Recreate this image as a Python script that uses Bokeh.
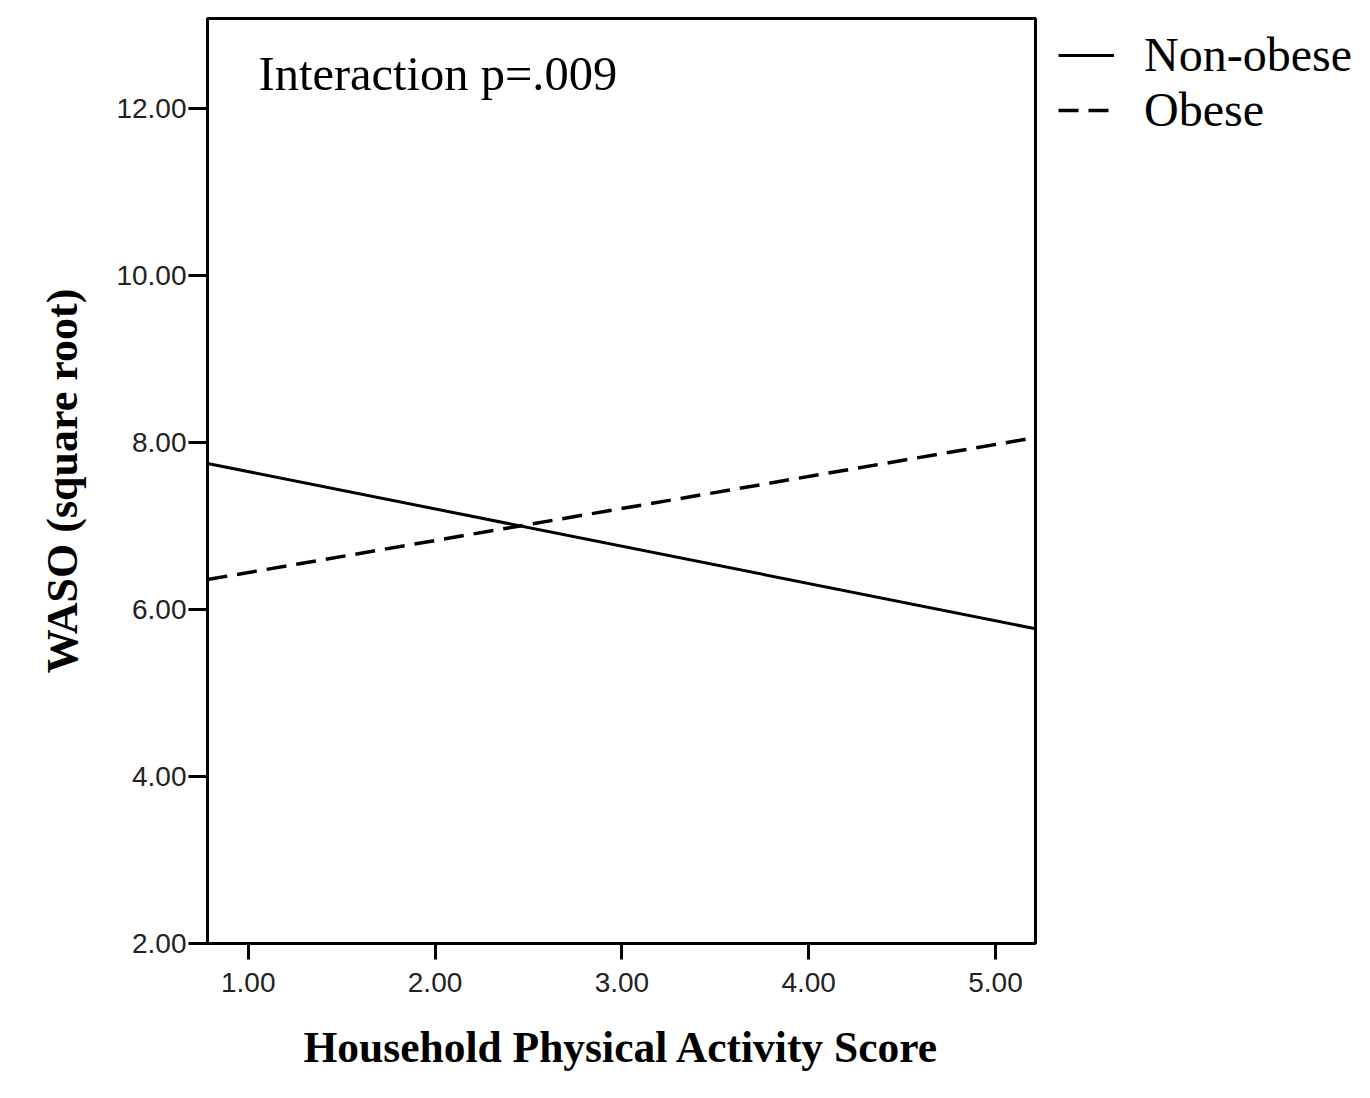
from bokeh.plotting import figure
from bokeh.models import Range1d, FixedTicker, PrintfTickFormatter, Legend, LegendItem, Label
from bokeh.embed import file_html
from bokeh.resources import INLINE

# Data
x_ends = [0.782, 5.214]
non_obese = [7.75, 5.77]
obese = [6.36, 8.06]
x_ticks = [1, 2, 3, 4, 5]
y_ticks = [2, 4, 6, 8, 10, 12]
annotation = "Interaction p=.009"

p = figure(output_backend="svg", toolbar_location=None,
           frame_width=828, frame_height=925,
           x_range=Range1d(0.782, 5.214), y_range=Range1d(2.0, 13.08),
           min_border_left=207, min_border_top=18, min_border_right=327, min_border_bottom=147)

p.background_fill_color = "white"
p.border_fill_color = "white"
p.grid.visible = False
p.outline_line_color = "black"
p.outline_line_width = 3

r1 = p.line(x_ends, non_obese, line_color="black", line_width=3)
r2 = p.line(x_ends, obese, line_color="black", line_width=3.5, line_dash="20 10")

for ax in (p.xaxis[0], p.yaxis[0]):
    ax.axis_line_width = 3
    ax.axis_line_color = "black"
    ax.major_tick_line_width = 3
    ax.major_tick_line_color = "black"
    ax.major_tick_in = 0
    ax.minor_tick_line_color = None
    ax.major_label_text_font = "Liberation Sans"
    ax.major_label_text_font_size = "28px"
    ax.major_label_text_color = "#222222"
    ax.formatter = PrintfTickFormatter(format="%.2f")
    ax.axis_label_text_font = "Liberation Serif"
    ax.axis_label_text_font_style = "bold"
    ax.axis_label_text_font_size = "44px"
    ax.axis_label_text_color = "black"

p.xaxis[0].ticker = FixedTicker(ticks=x_ticks)
p.yaxis[0].ticker = FixedTicker(ticks=y_ticks)
p.xaxis[0].axis_label = "Household Physical Activity Score"
p.yaxis[0].axis_label = "WASO (square root)"
p.xaxis[0].axis_label_text_font_size = "43.5px"
p.xaxis[0].major_tick_out = 16
p.yaxis[0].major_tick_out = 19
p.xaxis[0].major_label_standoff = 13
p.yaxis[0].major_label_standoff = 2
p.xaxis[0].axis_label_standoff = 28
p.yaxis[0].axis_label_standoff = 26

p.add_layout(Label(x=1.055, y=12.42, text=annotation, text_font="Liberation Serif",
                   text_font_size="48.5px", text_color="black", text_baseline="alphabetic"))

legend = Legend(items=[LegendItem(label="Non-obese", renderers=[r1]),
                       LegendItem(label="Obese", renderers=[r2])],
                location=(23, 806))
legend.border_line_color = None
legend.background_fill_alpha = 0
legend.margin = 0
legend.padding = 0
legend.spacing = 0
legend.glyph_width = 56
legend.glyph_height = 52
legend.label_height = 52
legend.label_standoff = 30
legend.label_text_font = "Liberation Serif"
legend.label_text_font_size = "48px"
legend.label_text_color = "black"
legend.label_text_baseline = "middle"
p.add_layout(legend, "right")

open("out.html", "w").write(file_html(p, INLINE))
